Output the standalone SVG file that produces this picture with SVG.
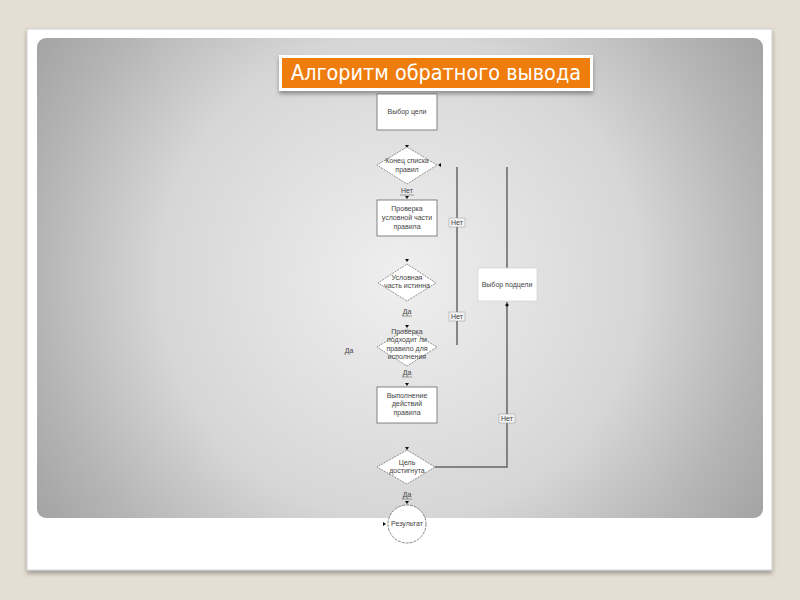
<svg xmlns="http://www.w3.org/2000/svg" width="800" height="600" viewBox="0 0 800 600">
<defs>
<radialGradient id="panel" cx="400" cy="278" r="440" gradientUnits="userSpaceOnUse">
<stop offset="0" stop-color="#efefef"/>
<stop offset="0.55" stop-color="#d6d6d6"/>
<stop offset="0.82" stop-color="#b5b5b5"/>
<stop offset="1" stop-color="#a2a2a2"/>
</radialGradient>
<filter id="sh" x="-10%" y="-10%" width="120%" height="130%">
<feDropShadow dx="0" dy="3" stdDeviation="2" flood-color="#000" flood-opacity="0.35"/>
</filter>
<filter id="sh2" x="-5%" y="-5%" width="110%" height="110%">
<feDropShadow dx="0" dy="3" stdDeviation="2" flood-color="#000" flood-opacity="0.3"/>
</filter>
</defs>
<style>
.box{fill:#fff;stroke:#666;stroke-width:0.8}
.dia{fill:#fff;stroke:#666;stroke-width:0.7;stroke-dasharray:2 1}
.t{font-family:"Liberation Sans",Arial,sans-serif;font-size:7px;fill:#444;text-anchor:middle}
.ln{fill:none;stroke:#666;stroke-width:1.5}
.lb{fill:#f2f2f2;stroke:#999;stroke-width:0.5}
.ul{stroke:#666;stroke-width:0.6}
.ar{fill:#111}
</style>
<rect width="800" height="600" fill="#e5ded2"/>
<rect x="27" y="29" width="745" height="541" fill="#fff" stroke="#d0d0d0" stroke-width="1" filter="url(#sh2)"/>
<rect x="37" y="38" width="726" height="480" rx="9" fill="url(#panel)"/>
<g id="title">
<rect x="279" y="55" width="314" height="36" fill="#fff" filter="url(#sh)"/>
<rect x="282" y="58" width="308" height="30" fill="#ef7d0e"/>
<text x="436" y="80" font-family="'DejaVu Sans Condensed','DejaVu Sans',sans-serif" font-size="21" fill="#fff" text-anchor="middle" textLength="290" lengthAdjust="spacingAndGlyphs">Алгоритм обратного вывода</text>
</g>
<g id="connectors">
<line class="ln" x1="457" y1="167" x2="457" y2="345"/>
<line class="ln" x1="507" y1="167" x2="507" y2="268"/>
<polyline class="ln" points="435,467 507,467 507,302"/>
<circle cx="507" cy="305" r="1.6" class="ar"/>
<path class="ar" d="M405,145 L409,145 L407,148 Z"/>
<path class="ar" d="M441,163 L441,167 L438,165 Z"/>
<path class="ar" d="M405,196 L409,196 L407,199 Z"/>
<path class="ar" d="M405,259 L409,259 L407,262 Z"/>
<path class="ar" d="M405,325 L409,325 L407,328 Z"/>
<path class="ar" d="M405,383 L409,383 L407,386 Z"/>
<path class="ar" d="M405,447 L409,447 L407,450 Z"/>
<path class="ar" d="M405,501 L409,501 L407,504 Z"/>
<path class="ar" d="M383,522 L383,526 L386,524 Z"/>
<rect class="lb" x="449" y="218" width="16" height="9"/>
<text class="t" x="457" y="225">Нет</text>
<rect class="lb" x="449" y="312" width="16" height="9"/>
<text class="t" x="457" y="319">Нет</text>
<rect class="lb" x="499" y="414" width="16" height="9"/>
<text class="t" x="507" y="421">Нет</text>
<text class="t" x="407" y="193">Нет</text>
<line class="ul" x1="400" y1="195" x2="414" y2="195"/>
<text class="t" x="407" y="314">Да</text>
<line class="ul" x1="402" y1="316" x2="412" y2="316"/>
<text class="t" x="407" y="375">Да</text>
<line class="ul" x1="402" y1="377" x2="412" y2="377"/>
<text class="t" x="407" y="497">Да</text>
<line class="ul" x1="402" y1="499" x2="412" y2="499"/>
<text class="t" x="349" y="353">Да</text>
</g>
<g id="n1">
<rect class="box" x="377" y="94" width="60" height="36"/>
<text class="t" x="407" y="114">Выбор цели</text>
</g>
<g id="n2">
<polygon class="dia" points="407,147 437,165 407,184 377,165"/>
<text class="t" x="407" y="163">Конец списка</text>
<text class="t" x="407" y="172">правил</text>
</g>
<g id="n3">
<rect class="box" x="377" y="200" width="60" height="36"/>
<text class="t" x="407" y="211">Проверка</text>
<text class="t" x="407" y="220">условной части</text>
<text class="t" x="407" y="229">правила</text>
</g>
<g id="n4">
<polygon class="dia" points="407,264 436,283 407,301 378,283"/>
<text class="t" x="407" y="280">Условная</text>
<text class="t" x="407" y="288">часть истинна</text>
</g>
<g id="n5">
<polygon class="dia" points="407,329 437,347 407,366 377,347"/>
<text class="t" x="407" y="334">Проверка</text>
<text class="t" x="407" y="342">подходит ли</text>
<text class="t" x="407" y="351">правило для</text>
<text class="t" x="407" y="359">исполнения</text>
</g>
<g id="n6">
<rect class="box" x="377" y="387" width="60" height="36"/>
<text class="t" x="407" y="398">Выполнение</text>
<text class="t" x="407" y="406">действий</text>
<text class="t" x="407" y="415">правила</text>
</g>
<g id="n7">
<polygon class="dia" points="407,450 435,467 407,484 377,467"/>
<text class="t" x="407" y="465">Цель</text>
<text class="t" x="407" y="473">достигнута</text>
</g>
<g id="n8">
<rect x="478" y="268" width="59" height="33" fill="#fff" stroke="#ccc" stroke-width="0.6"/>
<text class="t" x="507" y="287">Выбор подцели</text>
</g>
<g id="n9">
<circle cx="407" cy="524" r="19" fill="#fff" stroke="#555" stroke-width="0.7" stroke-dasharray="3 1"/>
<text class="t" x="407" y="526">Результат</text>
</g>
</svg>
